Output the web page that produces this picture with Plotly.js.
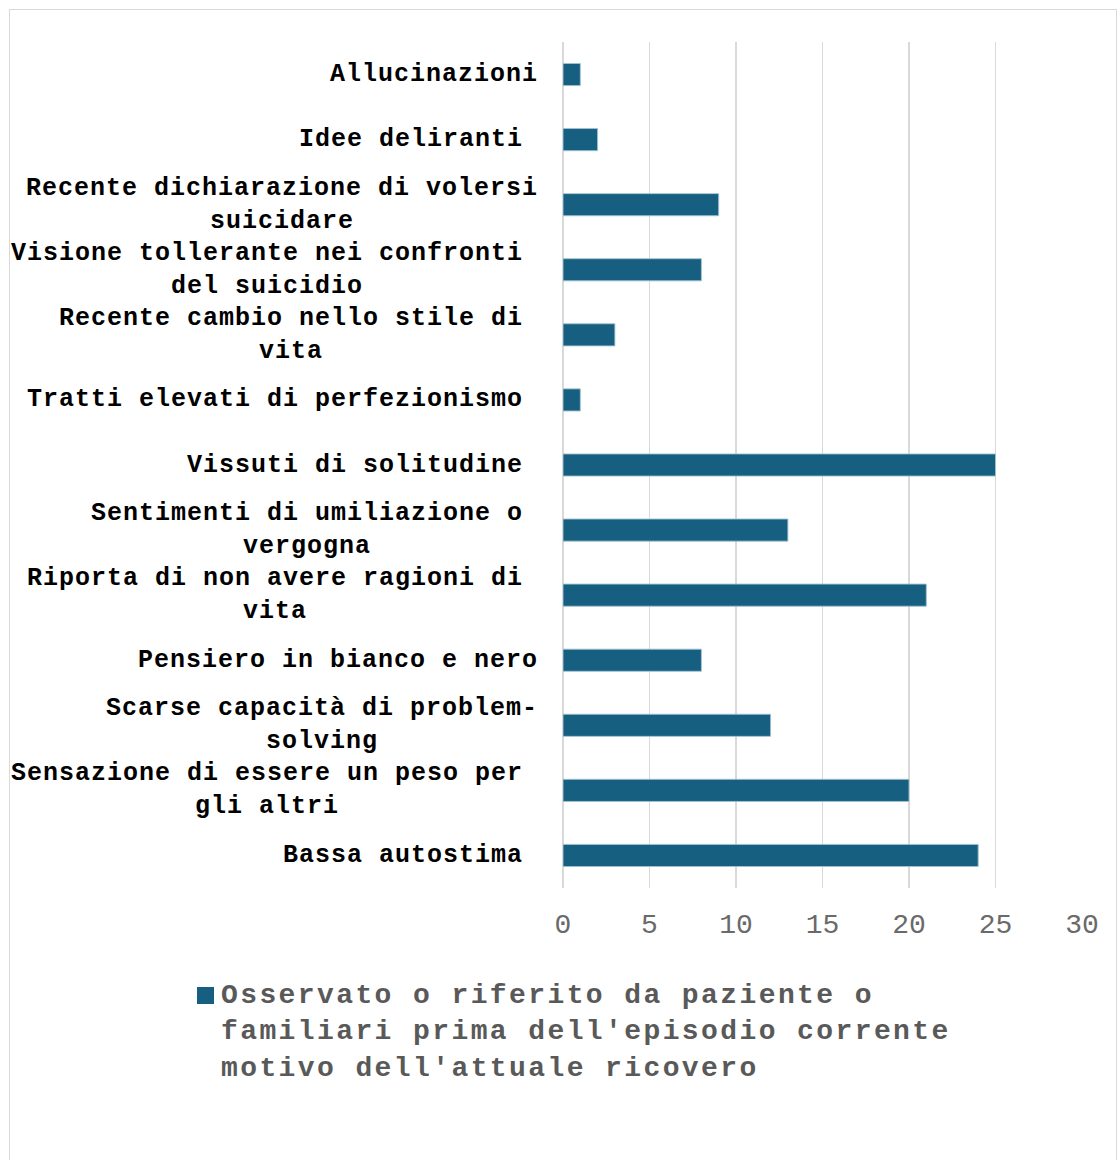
<!DOCTYPE html>
<html>
<head>
<meta charset="utf-8">
<script src="https://cdn.plot.ly/plotly-3.0.1.min.js"></script>
<style>
  html, body { margin: 0; padding: 0; background: #ffffff; }
  #wrap { position: relative; width: 1117px; height: 1160px; overflow: hidden; }
  #chart { position: absolute; left: 0; top: 0; width: 1117px; height: 1160px; }
  #frame { position: absolute; left: 9px; top: 9px; width: 1106px; height: 1200px;
           border: 1px solid #d9d9d9; pointer-events: none; }
  text.annotation-text[style*="font-size: 25px"] { letter-spacing: 1px; }
  text.annotation-text[style*="font-size: 28px"] { letter-spacing: 2.4px; }
</style>
</head>
<body>
<div id="wrap">
  <div id="chart"></div>
  <div id="frame"></div>
</div>
<script>
// Categories, top to bottom (trailing space kept as in the original labels)
const categories = [
  "Allucinazioni",
  "Idee deliranti ",
  "Recente dichiarazione di volersi<br>suicidare",
  "Visione tollerante nei confronti <br>del suicidio",
  "Recente cambio nello stile di <br>vita",
  "Tratti elevati di perfezionismo ",
  "Vissuti di solitudine ",
  "Sentimenti di umiliazione o <br>vergogna",
  "Riporta di non avere ragioni di <br>vita",
  "Pensiero in bianco e nero",
  "Scarse capacità di problem-<br>solving",
  "Sensazione di essere un peso per <br>gli altri",
  "Bassa autostima "
];
const values = [1, 2, 9, 8, 3, 1, 25, 13, 21, 8, 12, 20, 24];
const seriesName = "Osservato o riferito da paziente o<br>familiari prima dell'episodio corrente<br>motivo dell'attuale ricovero";
const xTicks = [0, 5, 10, 15, 20, 25, 30];

const barColor = "#175f80";
const catIds = categories.map((c, i) => "c" + i);

const trace = {
  type: "bar",
  orientation: "h",
  y: catIds,
  x: values,
  width: 0.34,
  marker: { color: barColor, line: { color: "rgba(160,195,212,0.9)", width: 1 } },
  name: seriesName,
  showlegend: false,
  hoverinfo: "x"
};

// Category labels as annotations (right-aligned block, centered lines)
const annotations = categories.map((c, i) => {
  const lines = c.split("<br>");
  const trailing = lines[0].endsWith(" ");
  const text = lines.map(l => l.replace(/\s+$/, "")).join("<br>");
  return {
    xref: "x", yref: "y",
    x: 0, y: catIds[i],
    text: text,
    showarrow: false,
    xanchor: "right", yanchor: "middle",
    align: "center",
    xshift: trailing ? -38 : -23,
    font: { family: "Liberation Mono, Courier New, monospace", size: 25, color: "#000000", weight: 700 }
  };
});

// Legend (custom, series name from variable)
const L = 563, R = 1082, T = 42, B = 888;
const px = v => (v - L) / (R - L);
const py = v => (B - v) / (B - T);
annotations.push({
  xref: "paper", yref: "paper",
  x: px(219), y: py(978),
  xanchor: "left", yanchor: "top",
  align: "left",
  showarrow: false,
  text: seriesName,
  font: { family: "Liberation Mono, Courier New, monospace", size: 28, color: "#595959", weight: 700 }
});

const layout = {
  width: 1117, height: 1160,
  margin: { l: L, r: 1117 - R, t: T, b: 1160 - B },
  paper_bgcolor: "rgba(0,0,0,0)",
  plot_bgcolor: "rgba(0,0,0,0)",
  showlegend: false,
  xaxis: {
    range: [0, 30],
    tickvals: xTicks,
    ticktext: xTicks.map(String),
    showgrid: true,
    gridcolor: "#d9d9d9",
    gridwidth: 1.5,
    zeroline: true,
    zerolinecolor: "#d9d9d9",
    zerolinewidth: 1.5,
    showline: false,
    ticks: "",
    ticklabelstandoff: 16,
    tickfont: { family: "Liberation Mono, Courier New, monospace", size: 28, color: "#6a6a6a" },
    fixedrange: true
  },
  yaxis: {
    type: "category",
    categoryorder: "array",
    categoryarray: catIds,
    range: [categories.length - 0.5, -0.5],
    showticklabels: false,
    showgrid: false,
    zeroline: false,
    ticks: "",
    fixedrange: true
  },
  annotations: annotations,
  shapes: [{
    type: "rect", xref: "paper", yref: "paper",
    x0: px(197), x1: px(214), y0: py(987), y1: py(1004),
    fillcolor: barColor, line: { width: 0 }
  }]
};

Plotly.newPlot("chart", [trace], layout, { displayModeBar: false, staticPlot: true });
</script>
</body>
</html>
